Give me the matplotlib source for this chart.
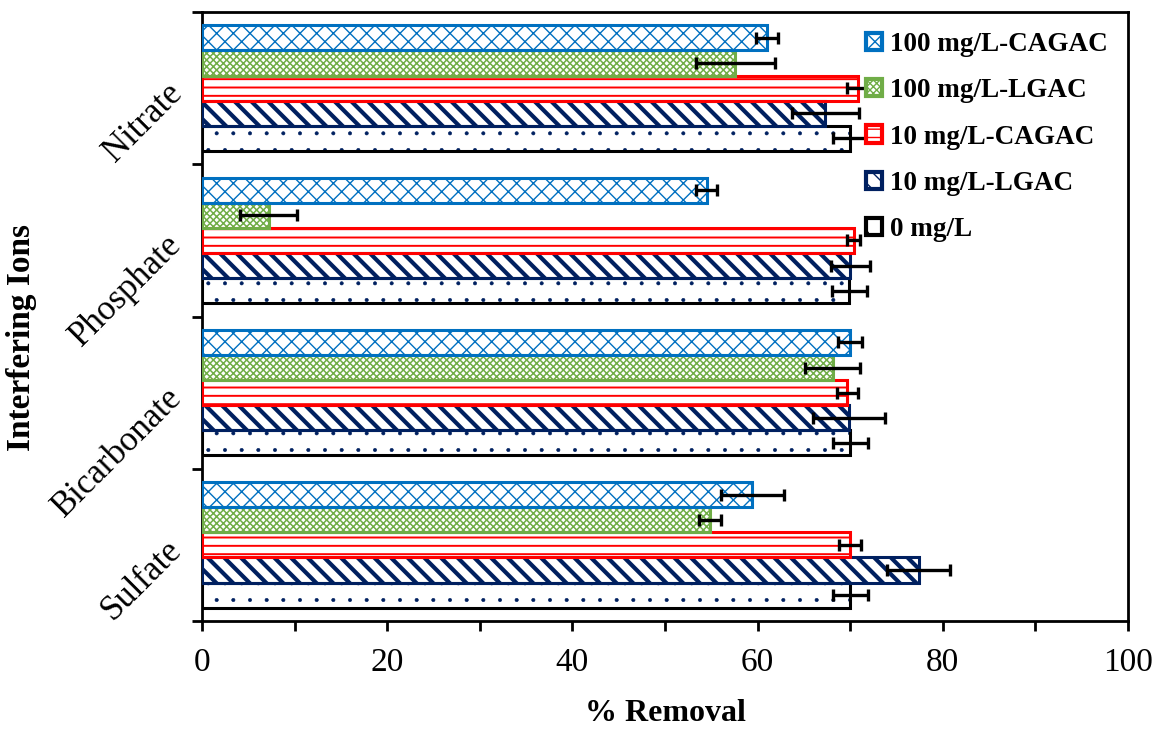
import matplotlib
matplotlib.use("Agg")
import matplotlib.pyplot as plt
import numpy as np
from matplotlib.ticker import MultipleLocator, FixedLocator

plt.rcParams['font.family'] = ['Liberation Serif', 'DejaVu Serif']

ions = ["Sulfate", "Bicarbonate", "Phosphate", "Nitrate"]
series = ["0 mg/L", "10 mg/L-LGAC", "10 mg/L-CAGAC", "100 mg/L-LGAC", "100 mg/L-CAGAC"]
# values per ion in order Sulfate, Bicarbonate, Phosphate, Nitrate
v_0 = [70.0, 70.0, 69.9, 70.0]
e_0 = [1.9, 1.9, 1.9, 1.9]
v_lgac10 = [77.4, 69.9, 70.0, 67.3]
e_lgac10 = [3.4, 3.9, 2.1, 3.6]
v_cagac10 = [70.0, 69.7, 70.4, 70.8]
e_cagac10 = [1.2, 1.1, 0.7, 1.1]
v_lgac100 = [54.9, 68.1, 7.2, 57.6]
e_lgac100 = [1.2, 3.0, 3.1, 4.3]
v_cagac100 = [59.4, 70.0, 54.5, 61.0]
e_cagac100 = [3.4, 1.3, 1.1, 1.2]

vals = [v_0, v_lgac10, v_cagac10, v_lgac100, v_cagac100]
errs = [e_0, e_lgac10, e_cagac10, e_lgac100, e_cagac100]
edges = ["#000000", "#002060", "#FF0000", "#70AD47", "#0070C0"]
hatchcols = ["#002060", "#002060", "#FF0000", "#70AD47", "#0070C0"]
hatches = [".", "\\\\", "--", "xxxxx", "xx"]
hlw = [0.4, 3.0, 1.4, 1.1, 1.0]

fig = plt.figure(figsize=(11.54, 7.32), dpi=100)
ax = fig.add_axes([0.175, 0.1516, 0.8025, 0.832])

y = np.arange(len(ions))
h = 0.165
handles = []
for k in range(5):
    pos = y + (k - 2) * h
    plt.rcParams['hatch.linewidth'] = hlw[k]
    b = ax.barh(pos, vals[k], height=h, color="white", edgecolor=hatchcols[k],
                hatch=hatches[k], linewidth=0, zorder=2)
    for p in b:
        if hasattr(p, "set_hatch_linewidth"):
            p.set_hatch_linewidth(hlw[k])
    ax.barh(pos, vals[k], height=h, color="none", edgecolor=edges[k],
            linewidth=2.2, zorder=3)
    ax.errorbar(vals[k], pos, xerr=errs[k], fmt="none", ecolor="black",
                elinewidth=2.4, capsize=4.5, capthick=2.4, zorder=4)
    handles.append(b)

ax.set_xlim(0, 100)
ax.set_ylim(-0.5, 3.5)
ax.xaxis.set_major_locator(MultipleLocator(20))
ax.xaxis.set_minor_locator(MultipleLocator(10))
ax.set_yticks(y)
ax.set_yticklabels(ions, rotation=45, ha="right", va="center", rotation_mode="anchor", fontsize=25)
ax.yaxis.set_minor_locator(FixedLocator([-0.5, 0.5, 1.5, 2.5, 3.5]))
ax.tick_params(axis="y", which="major", length=0, pad=18)
ax.tick_params(axis="y", which="minor", length=7, width=2, direction="out")
ax.tick_params(axis="x", which="both", length=7, width=2, direction="out", labelsize=24, pad=12)
for s in ax.spines.values():
    s.set_linewidth(2)

ax.set_xlabel("% Removal", fontsize=23, fontweight="bold", labelpad=15)
fig.text(22 / 1154, 1 - 338 / 732, "Interfering Ions", rotation=90, ha="center", va="center",
         fontsize=24, fontweight="bold")

leg = ax.legend(handles[::-1], series[::-1], loc="upper right", frameon=False,
                prop={"weight": "bold", "size": 19.5}, handlelength=0.6, handleheight=0.6,
                handletextpad=0.3, labelspacing=0.78, borderaxespad=0.35)
for p, ec in zip(leg.get_patches(), edges[::-1]):
    p.set_linewidth(3)
    p.set_edgecolor(ec)

fig.savefig("out.png", dpi=100)
